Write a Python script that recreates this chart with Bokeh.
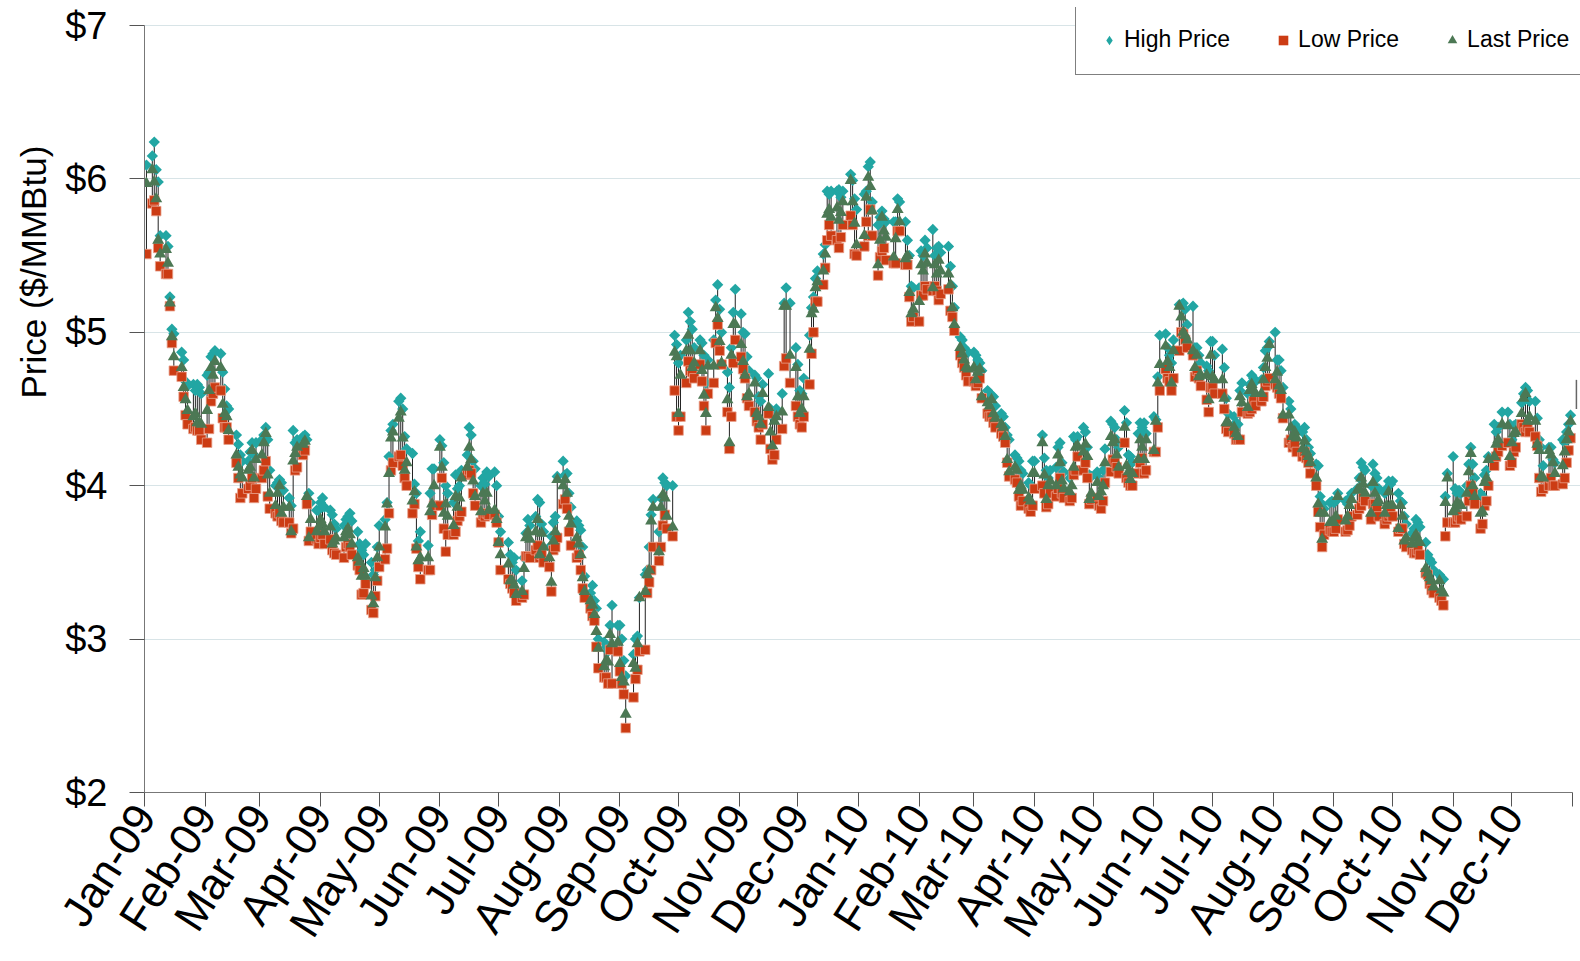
import numpy as np
import pandas as pd
from bokeh.plotting import figure
from bokeh.models import (Range1d, FixedTicker, NumeralTickFormatter, ColumnDataSource,
                          Legend, LegendItem, Title)
from bokeh.embed import file_html
from bokeh.resources import INLINE

# ---------------- data ----------------
MONTHS = ["2009-01", "2009-02", "2009-03", "2009-04", "2009-05", "2009-06",
          "2009-07", "2009-08", "2009-09", "2009-10", "2009-11", "2009-12",
          "2010-01", "2010-02", "2010-03", "2010-04", "2010-05", "2010-06",
          "2010-07", "2010-08", "2010-09", "2010-10", "2010-11", "2010-12"]

HOLIDAYS = ["2009-01-01", "2009-01-19", "2009-02-16", "2009-04-10", "2009-05-25",
            "2009-07-03", "2009-09-07", "2009-11-26", "2009-12-25", "2010-01-01",
            "2010-01-18", "2010-02-15", "2010-04-02", "2010-05-31", "2010-07-05",
            "2010-09-06", "2010-11-25", "2010-12-24"]

HIGH = [
    [6.09, 6.15, 6.24, 6.06, 5.98, 5.63, 5.63, 5.56, 5.23, 5.02, 4.99, 4.87, 4.82, 4.68, 4.65, 4.66, 4.62, 4.66, 4.64, 4.60],
    [4.72, 4.74, 4.84, 4.86, 4.88, 4.86, 4.74, 4.63, 4.52, 4.50, 4.33, 4.27, 4.20, 4.16, 4.16, 4.22, 4.28, 4.20, 4.28],
    [4.30, 4.33, 4.38, 4.30, 4.10, 4.00, 4.02, 4.04, 4.02, 3.97, 3.92, 3.87, 4.36, 4.28, 4.30, 4.32, 4.33, 4.30, 3.95, 3.89, 3.84, 3.84],
    [3.89, 3.92, 3.86, 3.84, 3.81, 3.75, 3.72, 3.74, 3.78, 3.80, 3.82, 3.77, 3.70, 3.62, 3.58, 3.55, 3.62, 3.50, 3.42, 3.45, 3.60],
    [3.74, 3.78, 3.89, 4.19, 4.36, 4.40, 4.55, 4.57, 4.50, 4.32, 4.24, 4.21, 4.01, 3.95, 3.64, 3.70, 3.61, 3.95, 4.11, 4.11],
    [4.30, 4.26, 4.15, 4.00, 3.95, 3.89, 4.07, 3.98, 4.00, 4.10, 4.20, 4.38, 4.33, 4.16, 4.11, 4.00, 4.05, 4.01, 4.09, 4.06, 4.09, 4.00],
    [3.80, 3.70, 3.63, 3.55, 3.50, 3.53, 3.45, 3.38, 3.53, 3.69, 3.78, 3.74, 3.80, 3.91, 3.89, 3.75, 3.70, 3.60, 3.67, 3.76, 3.80, 4.06],
    [4.16, 4.07, 4.08, 3.95, 3.86, 3.77, 3.74, 3.71, 3.60, 3.41, 3.30, 3.35, 3.25, 3.20, 3.00, 2.98, 2.95, 2.92, 3.09, 3.22, 3.09],
    [3.09, 3.00, 2.86, 2.76, 2.90, 3.00, 3.02, 3.27, 3.42, 3.45, 3.60, 3.81, 3.91, 3.70, 3.92, 4.05, 4.02, 4.00, 4.00, 4.98, 4.92],
    [4.80, 4.85, 4.95, 5.13, 5.07, 5.02, 4.90, 4.95, 4.93, 4.85, 4.67, 4.82, 4.95, 5.21, 5.31, 5.15, 5.00, 4.74, 4.64, 4.90, 5.13, 5.28],
    [5.12, 5.00, 4.99, 4.84, 4.75, 4.72, 4.70, 4.58, 4.55, 4.66, 4.73, 4.50, 4.45, 4.45, 4.50, 4.60, 5.19, 5.29, 5.19, 4.90],
    [4.79, 4.62, 4.60, 4.70, 4.98, 5.16, 5.23, 5.35, 5.40, 5.51, 5.57, 5.92, 5.90, 5.92, 5.92, 5.93, 5.88, 5.92, 6.03, 5.99, 5.87, 5.80],
    [5.90, 5.92, 6.08, 6.11, 5.85, 5.70, 5.75, 5.79, 5.74, 5.72, 5.72, 5.72, 5.87, 5.85, 5.72, 5.60, 5.50, 5.30, 5.29],
    [5.29, 5.53, 5.50, 5.60, 5.55, 5.67, 5.50, 5.55, 5.56, 5.52, 5.56, 5.43, 5.30, 5.16, 4.97, 4.95, 4.90, 4.88, 4.87],
    [4.87, 4.85, 4.82, 4.80, 4.75, 4.62, 4.60, 4.59, 4.58, 4.52, 4.47, 4.45, 4.38, 4.33, 4.30, 4.20, 4.18, 4.16, 4.10, 4.08, 4.02, 4.00, 4.16],
    [4.16, 4.33, 4.18, 4.10, 4.05, 4.10, 4.12, 4.25, 4.28, 4.15, 4.09, 4.05, 4.08, 4.32, 4.30, 4.32, 4.38, 4.35, 4.25, 4.07, 4.06],
    [4.09, 4.05, 4.02, 4.10, 4.24, 4.42, 4.40, 4.38, 4.30, 4.25, 4.49, 4.41, 4.20, 4.19, 4.15, 4.34, 4.41, 4.38, 4.41, 4.34],
    [4.45, 4.43, 4.71, 4.98, 4.99, 4.90, 4.85, 4.80, 4.95, 5.18, 5.18, 5.19, 5.15, 5.05, 5.17, 4.90, 4.90, 4.85, 4.80, 4.78, 4.75, 4.94],
    [4.94, 4.85, 4.89, 4.77, 4.57, 4.47, 4.45, 4.41, 4.40, 4.62, 4.67, 4.60, 4.66, 4.72, 4.70, 4.68, 4.69, 4.77, 4.88, 4.90, 4.94],
    [5.00, 4.82, 4.82, 4.75, 4.64, 4.55, 4.50, 4.38, 4.40, 4.38, 4.35, 4.38, 4.30, 4.25, 4.21, 4.14, 4.13, 3.93, 3.88, 3.85, 3.89, 3.90],
    [3.89, 3.90, 3.95, 3.90, 3.88, 3.92, 3.95, 3.98, 4.05, 4.15, 4.12, 4.10, 4.00, 4.14, 4.08, 4.05, 3.98, 3.95, 3.98, 4.03, 4.01],
    [4.03, 3.95, 3.90, 3.89, 3.80, 3.75, 3.69, 3.72, 3.78, 3.76, 3.73, 3.63, 3.55, 3.52, 3.50, 3.45, 3.42, 3.40, 3.39, 3.93, 4.08],
    [4.19, 3.98, 3.95, 3.97, 3.95, 4.00, 4.14, 4.25, 4.14, 4.05, 3.95, 3.93, 4.07, 4.10, 4.19, 4.40, 4.35, 4.38, 4.48, 4.48, 4.40],
    [4.30, 4.39, 4.40, 4.54, 4.60, 4.64, 4.62, 4.55, 4.55, 4.44, 4.30, 4.25, 4.13, 4.25, 4.25, 4.17, 4.15, 4.30, 4.28, 4.35, 4.40, 4.46],
]

LOW = [
    [5.51, 5.84, 5.86, 5.79, 5.55, 5.43, 5.38, 5.38, 5.17, 4.93, 4.75, 4.71, 4.58, 4.46, 4.40, 4.37, 4.38, 4.36, 4.36, 4.30],
    [4.28, 4.37, 4.55, 4.60, 4.64, 4.62, 4.44, 4.38, 4.38, 4.30, 4.15, 4.05, 3.92, 3.95, 3.98, 4.00, 4.05, 3.92, 3.98],
    [4.05, 4.10, 4.16, 3.93, 3.85, 3.82, 3.80, 3.82, 3.77, 3.76, 3.76, 3.69, 3.72, 4.10, 4.12, 4.20, 4.23, 3.88, 3.64, 3.70, 3.65, 3.62],
    [3.66, 3.68, 3.62, 3.65, 3.58, 3.56, 3.55, 3.53, 3.60, 3.62, 3.60, 3.55, 3.48, 3.45, 3.29, 3.30, 3.36, 3.19, 3.17, 3.28, 3.38],
    [3.47, 3.52, 3.59, 3.82, 4.10, 4.15, 4.19, 4.20, 4.13, 4.05, 4.00, 3.82, 3.88, 3.59, 3.47, 3.39, 3.45, 3.45, 3.81, 3.87],
    [3.87, 4.05, 3.72, 3.57, 3.68, 3.68, 3.70, 3.77, 3.80, 3.83, 4.07, 4.10, 4.08, 3.95, 3.87, 3.76, 3.81, 3.80, 3.82, 3.81, 3.81, 3.76],
    [3.63, 3.45, 3.39, 3.36, 3.33, 3.30, 3.25, 3.27, 3.29, 3.54, 3.54, 3.53, 3.58, 3.61, 3.53, 3.55, 3.50, 3.47, 3.31, 3.58, 3.60, 3.66],
    [3.88, 3.91, 3.85, 3.70, 3.61, 3.53, 3.55, 3.45, 3.33, 3.27, 3.20, 3.15, 3.12, 2.95, 2.81, 2.75, 2.75, 2.71, 2.93, 2.71, 2.92],
    [2.79, 2.71, 2.64, 2.42, 2.62, 2.74, 2.80, 2.92, 2.93, 3.30, 3.37, 3.45, 3.60, 3.51, 3.60, 3.74, 3.81, 3.72, 3.67, 4.62, 4.45],
    [4.36, 4.45, 4.67, 4.81, 4.75, 4.74, 4.70, 4.79, 4.68, 4.52, 4.36, 4.60, 4.67, 4.93, 5.05, 4.88, 4.79, 4.48, 4.24, 4.45, 4.80, 4.95],
    [4.84, 4.76, 4.70, 4.57, 4.52, 4.48, 4.42, 4.38, 4.30, 4.40, 4.47, 4.24, 4.17, 4.20, 4.30, 4.37, 4.78, 4.83, 4.67, 4.52],
    [4.45, 4.40, 4.38, 4.45, 4.66, 4.86, 5.00, 5.20, 5.20, 5.31, 5.42, 5.60, 5.70, 5.63, 5.60, 5.55, 5.62, 5.70, 5.76, 5.70, 5.51, 5.50],
    [5.56, 5.72, 5.63, 5.80, 5.63, 5.37, 5.49, 5.53, 5.55, 5.47, 5.45, 5.45, 5.66, 5.66, 5.44, 5.44, 5.23, 5.07, 5.10],
    [5.07, 5.24, 5.24, 5.30, 5.28, 5.27, 5.30, 5.27, 5.21, 5.25, 5.28, 5.14, 5.10, 5.01, 4.85, 4.80, 4.77, 4.72, 4.68],
    [4.68, 4.65, 4.67, 4.70, 4.57, 4.47, 4.45, 4.45, 4.41, 4.38, 4.34, 4.32, 4.28, 4.15, 4.06, 4.04, 4.02, 3.93, 3.87, 3.90, 3.85, 3.83, 3.87],
    [3.98, 4.00, 3.95, 3.86, 3.88, 3.95, 3.93, 3.98, 4.05, 3.95, 3.92, 3.90, 3.92, 4.07, 4.10, 4.19, 4.10, 4.15, 4.05, 3.88, 3.91],
    [3.92, 3.87, 3.85, 3.90, 4.02, 4.09, 4.17, 4.15, 4.12, 4.08, 4.28, 4.05, 4.02, 4.00, 4.00, 4.08, 4.15, 4.18, 4.08, 4.10],
    [4.22, 4.22, 4.38, 4.62, 4.76, 4.70, 4.68, 4.62, 4.70, 4.88, 5.00, 4.99, 4.95, 4.90, 4.85, 4.71, 4.75, 4.70, 4.65, 4.56, 4.48, 4.64],
    [4.64, 4.60, 4.60, 4.50, 4.37, 4.35, 4.34, 4.30, 4.30, 4.30, 4.48, 4.47, 4.48, 4.50, 4.55, 4.52, 4.55, 4.58, 4.65, 4.68, 4.70],
    [4.66, 4.64, 4.60, 4.57, 4.44, 4.28, 4.30, 4.25, 4.27, 4.22, 4.19, 4.22, 4.18, 4.15, 4.08, 4.00, 3.83, 3.73, 3.60, 3.68, 3.71, 3.70],
    [3.70, 3.72, 3.78, 3.70, 3.71, 3.74, 3.80, 3.81, 3.85, 3.87, 3.92, 3.90, 3.78, 3.88, 3.88, 3.85, 3.80, 3.75, 3.78, 3.80, 3.82],
    [3.80, 3.70, 3.72, 3.72, 3.62, 3.60, 3.58, 3.56, 3.56, 3.58, 3.55, 3.43, 3.42, 3.36, 3.32, 3.30, 3.27, 3.25, 3.22, 3.67, 3.76],
    [3.76, 3.76, 3.78, 3.80, 3.78, 3.80, 3.90, 4.00, 3.95, 3.88, 3.72, 3.75, 3.87, 3.90, 4.00, 4.13, 4.19, 4.22, 4.26, 4.28, 4.13],
    [4.15, 4.22, 4.25, 4.40, 4.38, 4.35, 4.38, 4.35, 4.32, 4.26, 4.05, 3.96, 3.98, 4.00, 4.05, 4.00, 4.00, 4.01, 4.05, 4.15, 4.23, 4.31],
]

LAST = [
    [5.97, 6.06, 5.98, 5.87, 5.60, 5.51, 5.54, 5.45, 5.19, 4.97, 4.84, 4.77, 4.64, 4.56, 4.49, 4.45, 4.47, 4.41, 4.41, 4.40],
    [4.49, 4.62, 4.77, 4.72, 4.81, 4.77, 4.53, 4.47, 4.45, 4.36, 4.20, 4.12, 4.07, 4.05, 4.10, 4.12, 4.23, 4.05, 4.17],
    [4.20, 4.28, 4.34, 4.07, 3.95, 3.87, 3.95, 4.00, 3.82, 3.86, 3.86, 3.70, 4.16, 4.21, 4.25, 4.27, 4.29, 3.93, 3.66, 3.78, 3.70, 3.73],
    [3.78, 3.75, 3.70, 3.73, 3.62, 3.64, 3.66, 3.66, 3.70, 3.72, 3.68, 3.62, 3.53, 3.50, 3.41, 3.46, 3.41, 3.28, 3.23, 3.40, 3.53],
    [3.60, 3.73, 3.88, 4.08, 4.31, 4.35, 4.44, 4.48, 4.31, 4.10, 4.15, 3.90, 3.96, 3.60, 3.51, 3.53, 3.53, 3.83, 3.88, 4.00],
    [4.25, 4.12, 3.82, 3.88, 3.80, 3.74, 3.93, 3.86, 3.92, 4.05, 4.12, 4.25, 4.17, 4.03, 3.93, 3.83, 3.95, 3.90, 3.95, 3.84, 3.84, 3.78],
    [3.63, 3.55, 3.49, 3.38, 3.38, 3.35, 3.29, 3.31, 3.46, 3.66, 3.70, 3.65, 3.70, 3.78, 3.55, 3.69, 3.60, 3.53, 3.37, 3.64, 3.70, 4.04],
    [4.00, 4.04, 3.95, 3.80, 3.75, 3.66, 3.62, 3.55, 3.40, 3.31, 3.25, 3.22, 3.16, 3.05, 2.94, 2.82, 2.86, 2.85, 3.03, 2.97, 2.98],
    [2.84, 2.75, 2.72, 2.51, 2.84, 2.81, 2.97, 3.27, 3.31, 3.42, 3.45, 3.77, 3.86, 3.57, 3.86, 3.94, 3.92, 3.80, 3.73, 4.87, 4.84],
    [4.47, 4.72, 4.88, 4.98, 4.88, 4.77, 4.80, 4.88, 4.75, 4.59, 4.47, 4.78, 4.78, 5.16, 5.09, 4.94, 4.80, 4.56, 4.28, 4.85, 5.05, 5.05],
    [4.92, 4.81, 4.72, 4.58, 4.60, 4.67, 4.47, 4.45, 4.40, 4.60, 4.51, 4.35, 4.26, 4.42, 4.45, 4.48, 5.17, 5.17, 4.85, 4.77],
    [4.58, 4.47, 4.50, 4.58, 4.89, 5.12, 5.15, 5.29, 5.33, 5.40, 5.51, 5.77, 5.80, 5.75, 5.81, 5.73, 5.78, 5.85, 5.99, 5.85, 5.71, 5.57],
    [5.63, 5.88, 6.01, 5.95, 5.79, 5.44, 5.60, 5.75, 5.66, 5.62, 5.49, 5.61, 5.80, 5.72, 5.48, 5.50, 5.26, 5.12, 5.15],
    [5.20, 5.44, 5.40, 5.51, 5.45, 5.29, 5.44, 5.38, 5.47, 5.40, 5.38, 5.31, 5.16, 5.05, 4.90, 4.86, 4.82, 4.77, 4.76],
    [4.77, 4.69, 4.74, 4.76, 4.58, 4.54, 4.52, 4.56, 4.47, 4.44, 4.40, 4.38, 4.32, 4.17, 4.09, 4.12, 4.10, 3.97, 4.00, 3.97, 3.92, 3.90, 4.08],
    [4.08, 4.28, 4.07, 3.91, 4.00, 4.03, 4.00, 4.20, 4.15, 4.03, 3.98, 3.96, 4.00, 4.12, 4.25, 4.26, 4.22, 4.27, 4.19, 3.91, 3.95],
    [4.02, 3.93, 3.96, 4.00, 4.15, 4.32, 4.28, 4.30, 4.20, 4.12, 4.38, 4.13, 4.09, 4.04, 4.08, 4.17, 4.30, 4.25, 4.17, 4.30],
    [4.23, 4.42, 4.67, 4.79, 4.91, 4.81, 4.77, 4.67, 4.88, 5.17, 5.10, 5.00, 4.98, 4.95, 4.88, 4.77, 4.85, 4.71, 4.72, 4.72, 4.56, 4.85],
    [4.71, 4.69, 4.69, 4.57, 4.41, 4.41, 4.38, 4.34, 4.32, 4.58, 4.54, 4.51, 4.62, 4.66, 4.62, 4.60, 4.60, 4.69, 4.77, 4.83, 4.92],
    [4.69, 4.74, 4.65, 4.62, 4.46, 4.46, 4.38, 4.32, 4.35, 4.31, 4.24, 4.29, 4.22, 4.19, 4.15, 4.05, 3.88, 3.82, 3.65, 3.82, 3.76, 3.76],
    [3.76, 3.80, 3.93, 3.77, 3.80, 3.87, 3.91, 3.97, 3.98, 4.05, 4.01, 3.95, 3.82, 4.02, 3.95, 3.89, 3.90, 3.82, 3.87, 3.96, 3.87],
    [3.87, 3.72, 3.87, 3.80, 3.64, 3.66, 3.62, 3.66, 3.68, 3.63, 3.63, 3.46, 3.43, 3.40, 3.38, 3.34, 3.38, 3.32, 3.30, 3.89, 4.05],
    [3.83, 3.85, 3.89, 3.87, 3.87, 3.95, 4.09, 4.21, 4.00, 3.93, 3.82, 3.83, 4.02, 4.05, 4.17, 4.19, 4.27, 4.30, 4.40, 4.39, 4.19],
    [4.28, 4.34, 4.35, 4.47, 4.57, 4.60, 4.42, 4.45, 4.42, 4.27, 4.23, 4.06, 4.05, 4.23, 4.20, 4.15, 4.08, 4.13, 4.22, 4.30, 4.35, 4.42],
]

# a day just past the axis end whose high-low line shows at the right edge (no markers)
EDGE_DATES = ["2011-01-03"]
EDGE_HIGH = [4.69]
EDGE_LOW = [4.50]

TICK_LABELS = ["Jan-09", "Feb-09", "Mar-09", "Apr-09", "May-09", "Jun-09",
               "Jul-09", "Aug-09", "Sep-09", "Oct-09", "Nov-09", "Dec-09",
               "Jan-10", "Feb-10", "Mar-10", "Apr-10", "May-10", "Jun-10",
               "Jul-10", "Aug-10", "Sep-10", "Oct-10", "Nov-10", "Dec-10", ""]
Y_TICKS = [2, 3, 4, 5, 6, 7]

# ---------------- build trading-day x positions ----------------
base = pd.Timestamp("2009-01-01")
hol = set(pd.to_datetime(HOLIDAYS))
xs, hs, ls, cs = [], [], [], []
for m, h, l, c in zip(MONTHS, HIGH, LOW, LAST):
    start = pd.Timestamp(m + "-01")
    days = [d for d in pd.bdate_range(start, start + pd.offsets.MonthEnd(0)) if d not in hol]
    n = len(h)
    if n != len(days):
        idx = np.round(np.linspace(0, len(days) - 1, n)).astype(int)
        days = [days[i] for i in idx]
    xs += [(d - base).days for d in days]
    hs += list(h)
    ls += list(l)
    cs += list(c)

src = ColumnDataSource(dict(x=xs, high=hs, low=ls, last=cs))
edge_src = ColumnDataSource(dict(x=[(pd.Timestamp(d) - base).days for d in EDGE_DATES],
                                 high=EDGE_HIGH, low=EDGE_LOW))

tick_pos = []
for i in range(25):
    y, mth = 2009 + i // 12, i % 12 + 1
    tick_pos.append(int((pd.Timestamp(year=y, month=mth, day=1) - base).days))

FONT = "Liberation Sans"
C_HIGH = "#22A6A3"
C_LOW = "#CC3C14"
C_LAST = "#4C7854"

# frame: x 144..1580 px, y 7..792 px ($7 at 25 px, $2 at 792 px)
PX_PER_DOLLAR = (792 - 25) / 5.0
PX_PER_DAY = (1572 - 144) / tick_pos[-1]
y_top = 2 + (792 - 7) / PX_PER_DOLLAR
x_right = (1580 - 144) / PX_PER_DAY

p = figure(width=1580, height=961, title=None,
           x_range=Range1d(0, x_right), y_range=Range1d(2, y_top),
           output_backend="svg", toolbar_location=None,
           min_border_left=144, min_border_right=0, min_border_top=7, min_border_bottom=169)
p.background_fill_color = "white"
p.border_fill_color = "white"
p.outline_line_color = None

# high-low stems
p.segment(x0="x", y0="low", x1="x", y1="high", source=src, line_color="#222222", line_width=1)
p.segment(x0="x", y0="low", x1="x", y1="high", source=edge_src, line_color="#666666", line_width=1.5)
# markers
p.scatter("x", "high", source=src, marker="square", angle=np.pi / 4, size=8,
          fill_color=C_HIGH, line_color=None)
p.scatter("x", "low", source=src, marker="square", size=9.5,
          fill_color=C_LOW, line_color="#E8A08A", line_width=0.8)
p.scatter("x", "last", source=src, marker="triangle", size=12,
          fill_color=C_LAST, line_color=None)

# legend-only renderers
lg_h = p.scatter([np.nan], [np.nan], marker="diamond", size=10, fill_color=C_HIGH, line_color=None)
lg_l = p.scatter([np.nan], [np.nan], marker="square", size=8, fill_color=C_LOW, line_color=None)
lg_c = p.scatter([np.nan], [np.nan], marker="triangle", size=8, fill_color=C_LAST, line_color=None)

legend = Legend(items=[LegendItem(label="High Price", renderers=[lg_h]),
                       LegendItem(label="Low Price", renderers=[lg_l]),
                       LegendItem(label="Last Price", renderers=[lg_c])],
                orientation="horizontal", location=(1075 - 144, 792 - 75),
                label_text_font=FONT, label_text_font_size="23px", label_text_color="black",
                glyph_width=24, glyph_height=24, label_standoff=3, spacing=41,
                padding=21, margin=0, border_line_color="black", border_line_width=1,
                background_fill_color="white", background_fill_alpha=1.0)
p.add_layout(legend, "center")

# axes
xa = p.xaxis[0]
xa.ticker = FixedTicker(ticks=tick_pos, minor_ticks=[])
xa.major_label_overrides = {t: lab for t, lab in zip(tick_pos, TICK_LABELS)}
xa.bounds = (0, tick_pos[-1])
xa.major_label_orientation = 1.0
xa.major_label_text_font = FONT
xa.major_label_text_font_size = "44px"
xa.major_label_text_color = "black"
xa.major_label_standoff = 2
xa.major_tick_out = 14
xa.major_tick_in = 0
xa.minor_tick_out = 0
xa.minor_tick_in = 0
xa.axis_line_color = "#777777"
xa.major_tick_line_color = "#555555"

ya = p.yaxis[0]
ya.ticker = FixedTicker(ticks=Y_TICKS, minor_ticks=[])
ya.formatter = NumeralTickFormatter(format="$0")
ya.bounds = (2, 7)
ya.major_label_text_font = FONT
ya.major_label_text_font_size = "38px"
ya.major_label_text_color = "black"
ya.major_label_standoff = 22
ya.major_tick_out = 15
ya.major_tick_in = 0
ya.minor_tick_out = 0
ya.minor_tick_in = 0
ya.axis_line_color = "#777777"
ya.major_tick_line_color = "#555555"

p.xgrid.visible = False
p.ygrid.ticker = FixedTicker(ticks=Y_TICKS)
p.ygrid.grid_line_color = "#D8E4E7"
p.ygrid.grid_line_width = 1

# y-axis title: starts ~394 px above the frame bottom, reads upwards
ytitle = Title(text="Price ($/MMBtu)", align="left", offset=394, standoff=20,
               text_font=FONT, text_font_size="35px", text_font_style="normal",
               text_color="black")
p.add_layout(ytitle, "left")

open("out.html", "w").write(file_html(p, INLINE))
